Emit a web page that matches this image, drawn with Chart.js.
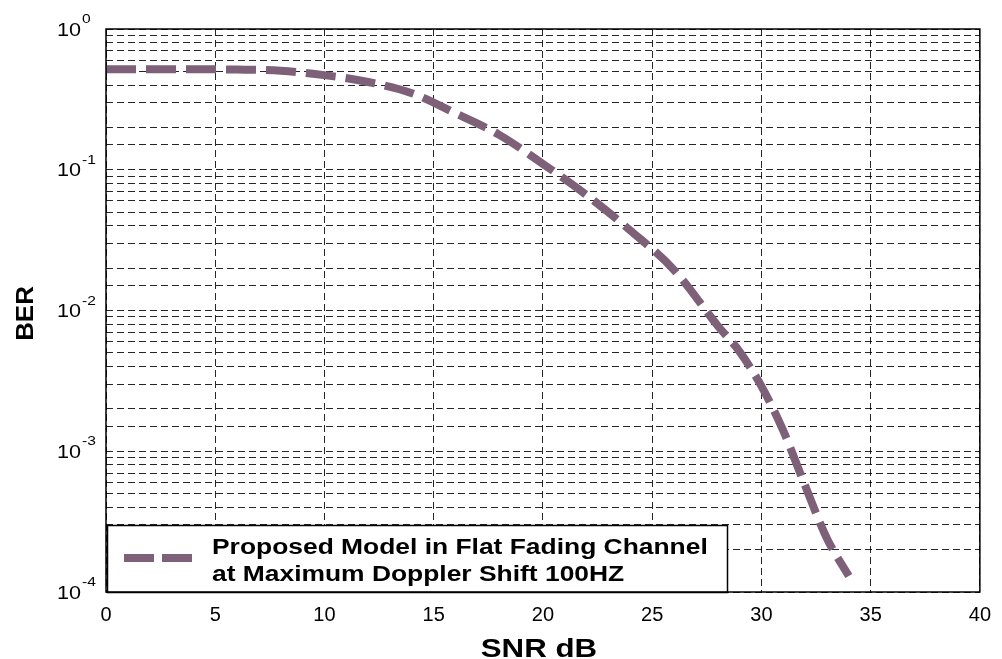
<!DOCTYPE html>
<html>
<head>
<meta charset="utf-8">
<title>BER vs SNR</title>
<script src="https://cdn.jsdelivr.net/npm/chart.js@4/dist/chart.umd.min.js"></script>
<style>
  html, body { margin: 0; padding: 0; background: #fff; }
  #wrap { width: 1002px; height: 659px; position: relative; }
</style>
</head>
<body>
<div id="wrap"><canvas id="berChart"></canvas></div>
<script>
/* ---- data ---- */
const snrDb     = [0, 2, 4, 6, 8, 10, 12, 14, 16, 18, 20, 22, 24, 26, 28, 29, 30, 31, 32, 33, 34];
const berValues = [0.517, 0.517, 0.517, 0.515, 0.505, 0.47, 0.42, 0.35, 0.252, 0.177, 0.11,
                   0.066, 0.037, 0.0194, 0.0078, 0.0051, 0.0029, 0.0014, 0.00057, 0.00024, 0.00013];

const xTickStep      = 5;
const yTickValues    = [1, 0.1, 0.01, 0.001, 0.0001];
const yTickExponents = ['0', '-1', '-2', '-3', '-4'];

const legendLines = ['Proposed Model in Flat Fading Channel', 'at Maximum Doppler Shift 100HZ'];
const xTitle = 'SNR dB';
const yTitle = 'BER';

/* ---- look ---- */
const FONT      = "'Liberation Sans', Arial, Helvetica, sans-serif";
const CURVE     = '#7f6079';
const GRID      = 'rgba(0,0,0,0.85)';
const GRID_DASH = [7, 4];

// text in the original is a bit wide, so draw it horizontally stretched
function wideText(ctx, text, x, y, sx, align) {
  ctx.save();
  ctx.translate(x, y);
  ctx.scale(sx, 1);
  ctx.textAlign = align || 'left';
  ctx.fillText(text, 0, 0);
  ctx.restore();
}

const matlabDecor = {
  id: 'matlabDecor',
  afterDraw(chart) {
    const ctx = chart.ctx;
    const ca  = chart.chartArea;
    const yScale = chart.scales.y;

    ctx.save();
    ctx.fillStyle = '#000';
    ctx.textBaseline = 'alphabetic';

    // y tick labels 10^n
    yTickValues.forEach((v, i) => {
      const py = yScale.getPixelForValue(v);
      ctx.font = '18px ' + FONT;
      const w = ctx.measureText('10').width * 1.2;
      wideText(ctx, '10', 57, py + 6.5, 1.2);
      ctx.font = '13px ' + FONT;
      wideText(ctx, yTickExponents[i], 57 + w + 1, py - 6, 1.2);
    });

    // axis titles
    ctx.font = 'bold 25px ' + FONT;
    wideText(ctx, xTitle, (ca.left + ca.right) / 2 - 4, 657, 1.25, 'center');

    ctx.save();
    ctx.translate(33, (ca.top + ca.bottom) / 2 + 3);
    ctx.rotate(-Math.PI / 2);
    ctx.font = 'bold 24px ' + FONT;
    ctx.textAlign = 'center';
    wideText(ctx, yTitle, 0, 0, 1.08, 'center');
    ctx.restore();

    // legend box, bottom-left inside the axes
    const bx = ca.left + 1, bh = 67, bw = 620;
    const by = ca.bottom - bh;
    ctx.fillStyle = '#fff';
    ctx.fillRect(bx, by, bw, bh);
    ctx.lineWidth = 1.5;
    ctx.strokeStyle = '#000';
    ctx.strokeRect(bx + 0.5, by + 0.5, bw, bh);

    ctx.beginPath();
    ctx.setLineDash([30, 8]);
    ctx.lineWidth = 8;
    ctx.lineCap = 'butt';
    ctx.strokeStyle = CURVE;
    ctx.moveTo(bx + 17, by + 33);
    ctx.lineTo(bx + 86, by + 33);
    ctx.stroke();
    ctx.setLineDash([]);

    ctx.fillStyle = '#000';
    ctx.font = 'bold 22px ' + FONT;
    wideText(ctx, legendLines[0], bx + 105, by + 29, 1.2);
    wideText(ctx, legendLines[1], bx + 105, by + 56, 1.2);

    // axes box
    ctx.lineWidth = 1.5;
    ctx.strokeStyle = '#000';
    ctx.strokeRect(ca.left, ca.top, ca.right - ca.left, ca.bottom - ca.top);
    ctx.restore();
  }
};

new Chart(document.getElementById('berChart'), {
  type: 'line',
  data: {
    datasets: [{
      label: legendLines.join(' '),
      data: snrDb.map((x, i) => ({ x, y: berValues[i] })),
      borderColor: CURVE,
      borderWidth: 8,
      borderDash: [30, 10],
      borderCapStyle: 'butt',
      pointRadius: 0,
      cubicInterpolationMode: 'monotone',
      fill: false
    }]
  },
  options: {
    responsive: true,
    maintainAspectRatio: false,
    animation: false,
    layout: { padding: { top: 29, right: 17, left: 0, bottom: 0 } },
    plugins: {
      legend: { display: false },
      tooltip: { enabled: false }
    },
    scales: {
      x: {
        type: 'linear',
        min: 0,
        max: 40,
        ticks: {
          stepSize: xTickStep,
          color: '#000',
          padding: 11,
          maxRotation: 0,
          font: { family: FONT, size: 20 }
        },
        grid: { color: GRID, lineWidth: 1, drawTicks: false },
        border: { display: false, dash: GRID_DASH },
        afterFit(scale) { scale.height = 67; }
      },
      y: {
        type: 'logarithmic',
        min: 1e-4,
        max: 1,
        ticks: { display: false },
        grid: { color: GRID, lineWidth: 1, drawTicks: false },
        border: { display: false, dash: GRID_DASH },
        afterFit(scale) { scale.width = 106; }
      }
    }
  },
  plugins: [matlabDecor]
});
</script>
</body>
</html>
